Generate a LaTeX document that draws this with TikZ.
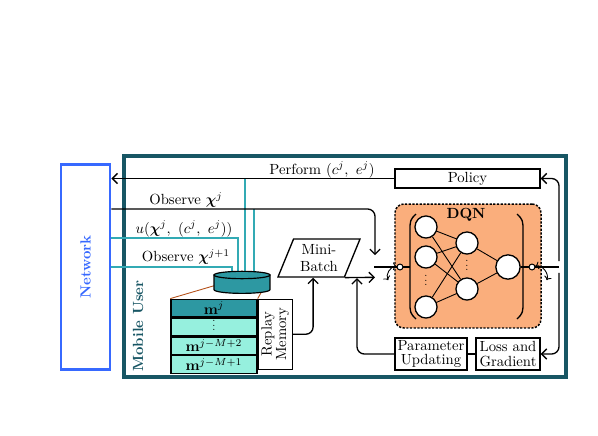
\documentclass[tikz,border=0pt]{standalone}
\usepackage{amsmath,bm,graphicx}
\usetikzlibrary{arrows.meta,shapes.geometric,positioning}
\definecolor{netblue}{RGB}{55,105,255}
\definecolor{userteal}{RGB}{24,86,100}
\definecolor{wireteal}{RGB}{50,170,180}
\definecolor{cellteal}{RGB}{45,152,162}
\definecolor{cellaqua}{RGB}{150,240,222}
\definecolor{zoombrown}{RGB}{180,80,25}
\definecolor{dqnorange}{RGB}{250,174,124}
\newcommand{\ndots}{\raisebox{0pt}[5pt][0pt]{\scalebox{0.75}{$\vdots$}}}
\begin{document}
\begin{tikzpicture}[x=0.68pt,y=-0.68pt]
    \tikzstyle{arrow} = [line width=0.9pt, ->, >={Straight Barb[length=3.5pt,width=7pt]}]
    \tikzstyle{wire} = [line width=1.3pt, wireteal]
    \tikzstyle{box} = [rectangle, draw=black, line width=0.9pt, text centered, inner sep=1pt]
    \tikzstyle{neuron} = [circle, draw=black, fill=white, line width=0.9pt, minimum size=15pt, inner sep=0pt]
    \tikzstyle{port} = [circle, draw=black, fill=white, line width=0.7pt, minimum size=4pt, inner sep=0pt]
    \tikzstyle{cell} = [rectangle, draw=black, line width=0.9pt, minimum width=58.5pt, minimum height=11.9pt, inner sep=0pt]
    \tikzstyle{turn} = [<->, >={To[length=2.5pt]}, line width=0.6pt]
    \useasboundingbox (0,0) rectangle (598,436);

    % frames
    \node[draw=netblue, line width=2pt, minimum width=33.3pt, minimum height=140pt, text=netblue, font=\bfseries] (net) at (85.5,267) {\rotatebox{90}{Network}};
    \node[draw=userteal, line width=2.2pt, minimum width=300.6pt, minimum height=150.3pt] (user) at (345,266.5) {};
    \node[userteal, font=\bfseries, rotate=90] (userLab) at (138,326) {Mobile User};

    % agent blocks
    \node[box, minimum width=98.6pt, minimum height=12.9pt] (pol) at (467.5,178.5) {Policy};
    \node[draw, dash pattern=on 1.5pt off 1pt, line width=1pt, fill=dqnorange, rounded corners=6pt, minimum width=99.3pt, minimum height=84.3pt] (dqn) at (468,266) {};
    \node[font=\bfseries] (dqnLab) at (466,215) {DQN};
    \node[box, minimum width=49pt, minimum height=21.8pt, align=center] (pu) at (431,354) {Parameter\\[-2pt]Updating};
    \node[box, minimum width=43.5pt, minimum height=21.8pt, align=center] (lg) at (508,354) {Loss and\\[-2pt]Gradient};
    \node[trapezium, trapezium left angle=67, trapezium right angle=113, trapezium stretches=true, draw, line width=0.9pt, minimum width=55.8pt, minimum height=25.8pt, align=center, inner sep=1pt] (mb) at (319,258) {Mini-\\[-1pt]Batch};

    % replay memory
    \node[cell, fill=cellteal] (m1) at (214,308) {$\mathbf{m}^{j}$};
    \node[cell, fill=cellaqua, below=0pt of m1] (m2) {\ndots};
    \node[cell, fill=cellaqua, below=0pt of m2] (m3) {$\mathbf{m}^{j-M+2}$};
    \node[cell, fill=cellaqua, below=0pt of m3] (m4) {$\mathbf{m}^{j-M+1}$};
    \node[box, anchor=north west, minimum width=23.1pt, minimum height=47.6pt, inner sep=0pt] (rmem) at (m1.north east) {\rotatebox{90}{\begin{tabular}{@{}c@{}}Replay\\[-2pt]Memory\end{tabular}}};

    % links to the network
    \coordinate (cyl) at (242,275);
    \coordinate (obsTurn) at (375,209);
    \coordinate (uTurn) at (238,238);
    \coordinate (nxTurn) at (232,267);
    \coordinate (tapA) at (245,275);
    \coordinate (tapB) at (254,275);
    \draw[wire] (net.east |- uTurn) -- (uTurn) -- (uTurn |- cyl);
    \draw[wire] (net.east |- nxTurn) -- (nxTurn) -- (nxTurn |- cyl);
    \draw[wire] (pol.west -| tapA) -- (tapA);
    \draw[wire] (obsTurn -| tapB) -- (tapB);
    \draw[zoombrown, line width=0.6pt] ([xshift=-18pt,yshift=-7pt]cyl) -- (m1.north west);
    \draw[zoombrown, line width=0.6pt] ([xshift=13pt,yshift=-12pt]cyl) -- (m1.north east);
    \filldraw[fill=cellteal, line width=0.8pt] ([xshift=-19pt]cyl) -- ++(0pt,-10pt) arc[start angle=180, end angle=360, x radius=19pt, y radius=2.5pt] -- ++(0pt,10pt) -- cycle;
    \filldraw[fill=cellteal, line width=0.8pt] (cyl) ellipse [x radius=19pt, y radius=2.5pt];

    \node (perfLab) at (322,170) {Perform $(c^j,\ e^j)$};
    \node (obsLab) at (186,200) {Observe $\bm{\chi}^j$};
    \node (uLab) at (184,229) {$u(\bm{\chi}^j,\ (c^j,\ e^j))$};
    \node (nxLab) at (186,257) {Observe $\bm{\chi}^{j+1}$};

    % switches
    \coordinate (swL) at (375,267);
    \coordinate (swR) at (559,267);
    \coordinate (upTip) at (357,278);
    \coordinate (brL) at (410,267);
    \node[port] (pinL) at (400,267) {};
    \node[port] (pinR) at (532,267) {};

    \draw[arrow] (pol.west) -- (pol.west -| net.east);
    \draw[arrow, rounded corners=5pt] (net.east |- obsTurn) -- (obsTurn) -- ([yshift=8pt]swL);
    \draw[arrow] (mb.bottom right corner) -- ([yshift=-7pt]swL);
    \draw[arrow, rounded corners=5pt] (rmem.east) -| ([xshift=-4pt]mb.south);
    \draw[arrow, rounded corners=5pt] (pu.west) -| (upTip);
    \draw[line width=0.9pt] (lg) -- (pu);
    \draw[arrow, rounded corners=5pt] ([yshift=4pt]swR) |- (pol.east);
    \draw[arrow, rounded corners=5pt] ([yshift=-4pt]swR) |- (lg.east);
    \draw[line width=0.7pt] ([xshift=-0.5pt]swL) -- (pinL);
    \draw[line width=0.7pt] (pinR) -- (swR);
    \draw[turn] ([xshift=-8pt,yshift=9pt]pinL) to[bend right=60] ([xshift=-8pt,yshift=-9pt]pinL);
    \draw[turn] ([xshift=10pt,yshift=9pt]pinR) to[bend left=60] ([xshift=10pt,yshift=-9pt]pinR);

    % network inside the DQN
    \node[neuron] (in1) at (426,227) {};
    \node[neuron] (in2) at (426,257) {};
    \node[neuron] (in3) at (426,307) {};
    \node[inner sep=0pt] (inDots) at (426,282) {\ndots};
    \node[neuron] (hid1) at (467,243) {};
    \node[neuron] (hid2) at (467,289) {};
    \node[inner sep=0pt] (hidDots) at (467,267) {\ndots};
    \node[neuron, minimum size=16.5pt] (out) at (508,267) {};
    \draw[semithick] (in1) -- (hid1);
    \draw[semithick] (in1) -- (hid2);
    \draw[semithick] (in2) -- (hid1);
    \draw[semithick] (in2) -- (hid2);
    \draw[semithick] (in3) -- (hid1);
    \draw[semithick] (in3) -- (hid2);
    \draw[semithick] (hid1) -- (out);
    \draw[semithick] (hid2) -- (out);
    \draw[line width=0.7pt] (pinL) -- (brL);
    \draw[line width=0.7pt] (out) -- (pinR);
    \draw[line width=0.9pt] (416,214) .. controls (410,220) .. (410,232) -- (410,301) .. controls (410,313) .. (416,319);
    \draw[line width=0.9pt] (517,214) .. controls (523,220) .. (523,232) -- (523,301) .. controls (523,313) .. (517,319);
\end{tikzpicture}
\end{document}
